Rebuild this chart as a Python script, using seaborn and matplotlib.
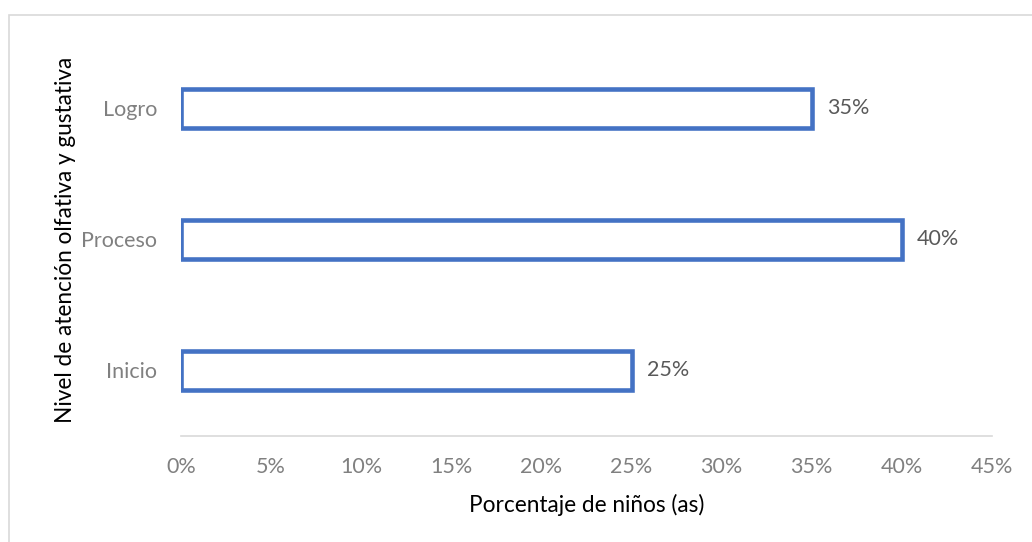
import pandas as pd
import matplotlib.pyplot as plt
import seaborn as sns
from matplotlib.patches import Rectangle

niveles = ["Logro", "Proceso", "Inicio"]
porcentajes = [0.35, 0.40, 0.25]
ticks_x = [0, 0.05, 0.10, 0.15, 0.20, 0.25, 0.30, 0.35, 0.40, 0.45]
ticks_txt = ["0%", "5%", "10%", "15%", "20%", "25%", "30%", "35%", "40%", "45%"]

df = pd.DataFrame({"nivel": niveles, "pct": porcentajes})

sns.set_style("white")
plt.rcParams["font.family"] = ["Lato", "DejaVu Sans"]

fig = plt.figure(figsize=(10.32, 5.42), dpi=100)
ax = fig.add_axes([0.1754, 0.1956, 0.7858, 0.7251])

sns.barplot(data=df, x="pct", y="nivel", order=niveles, color="white",
            edgecolor="#4472C4", linewidth=3.3, width=0.305, ax=ax)

for c in ax.containers:
    ax.bar_label(c, labels=[f"{v:.0%}" for v in porcentajes], padding=11,
                 fontsize=15.5, color="#595959")

ax.set_xlim(0, 0.45)
ax.set_ylim(2.5, -0.5)
ax.set_xticks(ticks_x)
ax.set_xticklabels(ticks_txt)
ax.tick_params(axis="both", length=0, labelsize=15.5, labelcolor="#808080")
ax.tick_params(axis="x", pad=15)
ax.tick_params(axis="y", pad=17)

for s in ["top", "right", "left"]:
    ax.spines[s].set_visible(False)
ax.spines["bottom"].set_color("#D9D9D9")
ax.spines["bottom"].set_linewidth(1.2)

ax.set_xlabel("Porcentaje de niños (as)", fontsize=16.3, color="black", labelpad=12)
ax.set_ylabel("Nivel de atención olfativa y gustativa", fontsize=16.3, color="black", labelpad=4)

# marco del gráfico (recortado a la derecha y abajo)
fig.patches.append(Rectangle((9 / 1032, -0.1), 1.2, 1 - 15 / 542 + 0.1,
                             transform=fig.transFigure, fill=False,
                             edgecolor="#D9D9D9", linewidth=1.2))

plt.savefig("out.png", dpi=100)
